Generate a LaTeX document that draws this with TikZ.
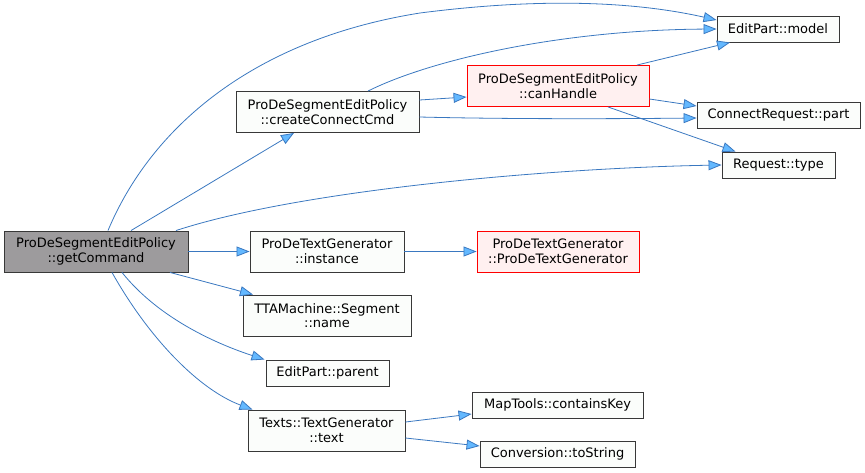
\documentclass[tikz,border=0pt]{standalone}
\usepackage{fontspec}
\setmainfont{DejaVu Sans}
\usepackage{xcolor}
\usetikzlibrary{arrows.meta,calc}

\definecolor{edgeblue}{HTML}{3A78C0}
\definecolor{tipblue}{HTML}{63B8FF}
\definecolor{nodeline}{HTML}{383838}
\definecolor{nodefill}{HTML}{FBFDFB}
\definecolor{hlgray}{HTML}{9D9B9D}
\definecolor{redfill}{HTML}{FFF0F0}

\begin{document}
\begin{tikzpicture}[
    x=1pt, y=-1pt,
    fn/.style={draw=nodeline, fill=nodefill, line width=0.9pt, minimum height=26pt, inner sep=0pt, align=center, font=\fontsize{13}{14.5}\selectfont},
    fntwo/.style={fn, minimum height=41pt},
    hl/.style={fntwo, fill=hlgray},
    missing/.style={draw=red, fill=redfill},
    call/.style={draw=edgeblue, line width=0.8pt, -{Triangle[length=13pt, width=10pt, fill=tipblue]}},
]

\useasboundingbox (0,0) rectangle (865,472);

% Caller
\node[hl, minimum width=184pt] (getcmd) at (96,251.5) {ProDeSegmentEditPolicy\\::getCommand};

% Middle column
\node[fntwo, minimum width=183pt] (createcmd) at (327.5,112) {ProDeSegmentEditPolicy\\::createConnectCmd};
\node[fntwo, minimum width=154pt] (instance) at (327,251.5) {ProDeTextGenerator\\::instance};
\node[fntwo, minimum width=168pt] (segname) at (327,315.5) {TTAMachine::Segment\\::name};
\node[fn, minimum width=123pt] (parent) at (327.5,373) {EditPart::parent};
\node[fntwo, minimum width=157pt] (text) at (326.5,430.5) {Texts::TextGenerator\\::text};

% Right columns
\node[fntwo, missing, minimum width=182pt] (canhandle) at (558,86) {ProDeSegmentEditPolicy\\::canHandle};
\node[fntwo, missing, minimum width=162pt] (ctor) at (558,251.5) {ProDeTextGenerator\\::ProDeTextGenerator};
\node[fn, minimum width=171pt] (containskey) at (557.5,405) {MapTools::containsKey};
\node[fn, minimum width=155pt] (tostring) at (557.5,454) {Conversion::toString};
\node[fn, minimum width=122pt] (model) at (778,29) {EditPart::model};
\node[fn, minimum width=163pt] (part) at (778.5,115.5) {ConnectRequest::part};
\node[fn, minimum width=113pt] (type) at (778.5,165) {Request::type};

% Calls from getCommand
\draw[call] ([xshift=12pt]getcmd.north) .. controls (150,130) and (250,40) .. (420,13) .. controls (560,-5) and (650,5) .. ([yshift=9pt]model.west);
\draw[call] ([xshift=35pt]getcmd.north) -- ([xshift=-33.5pt]createcmd.south);
\draw[call] ([xshift=80pt]getcmd.north) .. controls (300,190) and (550,168) .. (type.west);
\draw[call] (getcmd.east) -- (instance.west);
\draw[call] ([xshift=74pt]getcmd.south) -- ([xshift=-74pt]segname.north);
\draw[call] ([xshift=26pt]getcmd.south) .. controls (160,320) and (220,345) .. ([xshift=-63pt]parent.north);
\draw[call] ([xshift=16pt]getcmd.south) .. controls (150,340) and (200,390) .. ([xshift=-74pt]text.north);

% Calls from createConnectCmd
\draw[call] ([xshift=40.5pt]createcmd.north) .. controls (430,60) and (560,30) .. (model.west);
\draw[call] ([yshift=12pt]createcmd.east) -- ([yshift=-11pt]canhandle.west);
\draw[call] ([yshift=-5pt]createcmd.east) .. controls (500,119) and (600,119) .. ([yshift=-2.5pt]part.west);

% Calls from canHandle
\draw[call] ([xshift=79pt]canhandle.north) -- ([xshift=-48pt]model.south);
\draw[call] ([yshift=-13pt]canhandle.east) -- ([yshift=9.5pt]part.west);
\draw[call] ([xshift=50pt]canhandle.south) -- ([xshift=-43pt]type.north);

% Remaining calls
\draw[call] (instance.east) -- (ctor.west);
\draw[call] ([yshift=8.5pt]text.east) -- ([yshift=-9pt]containskey.west);
\draw[call] ([yshift=-7.5pt]text.east) -- ([yshift=8pt]tostring.west);

\end{tikzpicture}
\end{document}
